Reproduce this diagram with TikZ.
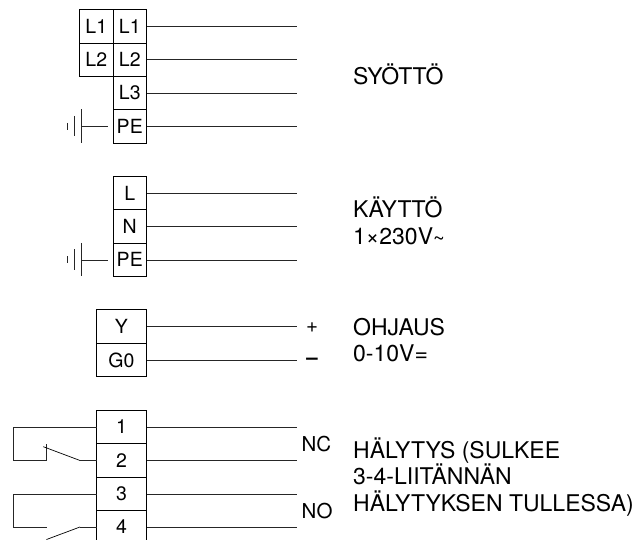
\documentclass[tikz,border=0pt]{standalone}
\usepackage{fontspec}
\setmainfont{TeX Gyre Heros}
\tikzset{
 x=1pt,y=-1pt,
 wire/.style={line width=0.9pt,black!85},
 term/.style={draw=black,line width=0.9pt,minimum height=33.5pt,inner sep=0pt,outer sep=0pt,font=\fontsize{19.5}{22}\selectfont,anchor=center},
 nar/.style={term,minimum width=33.5pt},
 wid/.style={term,minimum width=50pt},
 lab/.style={anchor=west,inner sep=0pt,align=left,font=\fontsize{23}{26.6}\selectfont},
 sym/.style={anchor=base west,inner sep=0pt,font=\fontsize{20.5}{22}\selectfont},
}
\begin{document}
\begin{tikzpicture}
\useasboundingbox (0,0) rectangle (638,540);
\clip (0,0) rectangle (638,540);
% group 1
\node[nar] (la) at (96.25,26.25) {L1};
\node[nar] (lb) at (96.25,59.75) {L2};
\node[nar] (a1) at (129.75,26.25) {L1};
\node[nar] (a2) at (129.75,59.75) {L2};
\node[nar] (a3) at (129.75,93) {L3};
\node[nar] (a4) at (129.75,126.25) {PE};
\foreach \n/\y in {a1/26,a2/59.5,a3/93,a4/126.5}{
 \coordinate (e\n) at (297,\y);
 \draw[wire] (\n.east |- e\n) -- (e\n);
}
% ground 1
\draw[wire] (81,126.5) -- (108,126.5);
\draw[wire] (81,109.5) -- (81,143);
\draw[wire] (74,116) -- (74,136.5);
\draw[wire] (67.3,123) -- (67.3,130);
% group 2
\node[nar] (b1) at (129.75,193) {L};
\node[nar] (b2) at (129.75,226.5) {N};
\node[nar] (b3) at (129.75,259.75) {PE};
\foreach \n/\y in {b1/193,b2/226.5,b3/260}{
 \coordinate (e\n) at (297,\y);
 \draw[wire] (\n.east |- e\n) -- (e\n);
}
% ground 2
\draw[wire] (81,260) -- (108,260);
\draw[wire] (81,243) -- (81,276.5);
\draw[wire] (74,249.5) -- (74,270);
\draw[wire] (67.3,256.5) -- (67.3,263.5);
% group 3
\node[wid] (c1) at (121.5,326.5) {Y};
\node[wid] (c2) at (121.5,360) {G0};
\node[sym,anchor=center] (plus) at (312,327.5) {+};
\node[sym,anchor=center] (minus) at (312,361.5) {\textbf{--}};
\coordinate (ec1) at (297,326.5);
\coordinate (ec2) at (297,360);
\draw[wire] (c1.east) -- (ec1);
\draw[wire] (c2.east) -- (ec2);
% group 4
\node[wid] (d1) at (121.5,427) {1};
\node[wid] (d2) at (121.5,460.5) {2};
\node[wid] (d3) at (121.5,494) {3};
\node[wid] (d4) at (121.5,527) {4};
\foreach \n in {d1,d2,d3,d4}{
 \draw[wire] (\n.east) -- (297,0 |- \n.east);
}
% relay contacts
\draw[wire] (d1.west) -- (13,427) -- (13,460.5) -- (46.5,460.5) -- (46.5,443.5);
\draw[line width=0.7pt] (43.3,446.7) -- (80,460.5);
\draw[wire] (80,460.5) -- (d2.west);
\draw[wire] (d3.west) -- (13,494) -- (13,527) -- (46.5,527);
\draw[line width=0.7pt] (46.5,539.5) -- (80,527);
\draw[wire] (80,527) -- (d4.west);
% labels
\node[lab,anchor=base west] (t1) at (353,84.3) {SYÖTTÖ};
\node[lab] (t2) at (353,221) {KÄYTTÖ\\1×230V\raisebox{-0.1ex}{\fontsize{20}{20}\selectfont\char"7E}};
\node[lab] (t3) at (353,340) {OHJAUS\\0-10V=};
\node[lab] (t4) at (353,477) {HÄLYTYS (SULKEE\\3-4-LIITÄNNÄN\\HÄLYTYKSEN TULLESSA)};
\node[sym] (nc) at (301.5,451.7) {NC};
\node[sym] (no) at (301.5,518) {NO};
\end{tikzpicture}
\end{document}
